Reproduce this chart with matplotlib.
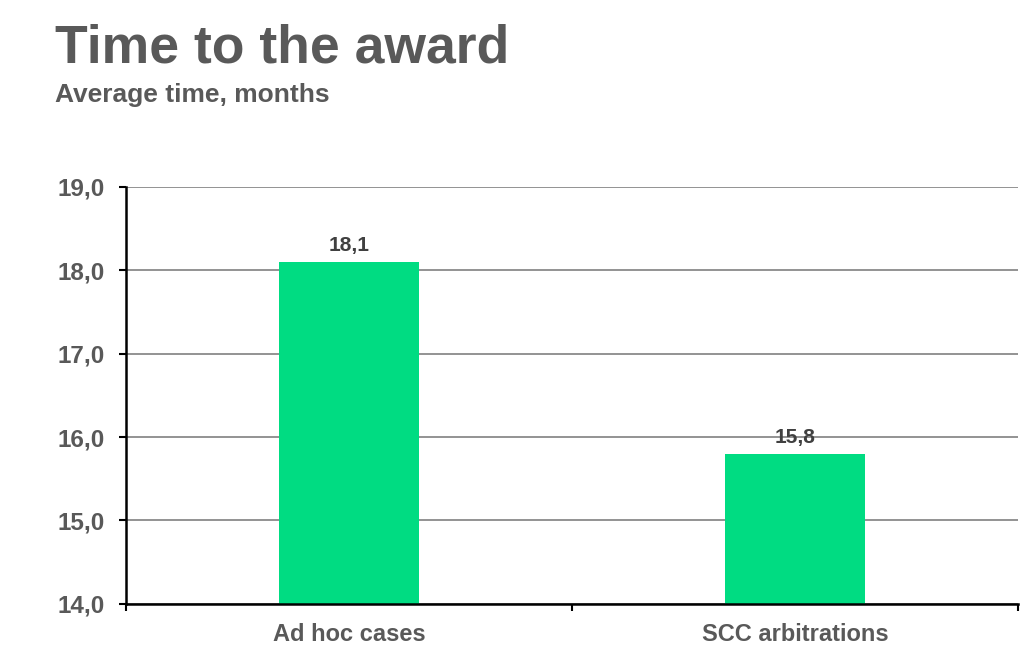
import numpy as np
import matplotlib.pyplot as plt

# chart data
categories = ['Ad hoc cases', 'SCC arbitrations']
avg_months = [18.1, 15.8]
y_ticks = [14.0, 15.0, 16.0, 17.0, 18.0, 19.0]

bar_color = '#00DC82'
grey = '#595959'

plt.rcParams['font.family'] = ['Liberation Sans', 'DejaVu Sans']

fig = plt.figure(figsize=(10.24, 6.55), dpi=100)
ax = fig.add_axes([0.123, 0.078, 0.871, 0.637])

x = np.arange(len(categories))
bars = ax.bar(x, avg_months, width=0.314, color=bar_color, zorder=3)

# value labels on top of the bars
for b, v in zip(bars, avg_months):
    ax.text(b.get_x() + b.get_width() / 2, v + 0.08, f'{v:.1f}'.replace('.', ','),
            ha='center', va='bottom', fontsize=15, fontweight='bold', color='#404040')

ax.set_ylim(14, 19)
ax.set_xlim(-0.5, len(categories) - 0.5)
ax.set_yticks(y_ticks)
ax.set_yticklabels([f'{t:.1f}'.replace('.', ',') for t in y_ticks],
                   fontsize=17.5, fontweight='bold', color=grey)
ax.yaxis.grid(True, color='#808080', linewidth=1.2, zorder=0)

# category labels in the middle, tick marks on the category borders
ax.set_xticks(x)
ax.set_xticklabels(categories, fontsize=17, fontweight='bold', color=grey)
ax.tick_params(axis='x', which='major', length=0, pad=14)
ax.set_xticks(np.arange(-0.5, len(categories)), minor=True)
ax.tick_params(axis='x', which='minor', length=5, width=1.5, color='black')
ax.tick_params(axis='y', length=5, width=1.5, color='black', pad=10)

for s in ['top', 'right']:
    ax.spines[s].set_visible(False)
for s in ['left', 'bottom']:
    ax.spines[s].set_linewidth(1.8)
    ax.spines[s].set_zorder(4)

fig.text(0.054, 0.905, 'Time to the award', fontsize=38.5, fontweight='bold',
         color=grey, ha='left', va='baseline')
fig.text(0.054, 0.844, 'Average time, months', fontsize=19, fontweight='bold',
         color=grey, ha='left', va='baseline')

fig.savefig('out.png', dpi=100, facecolor='white')
